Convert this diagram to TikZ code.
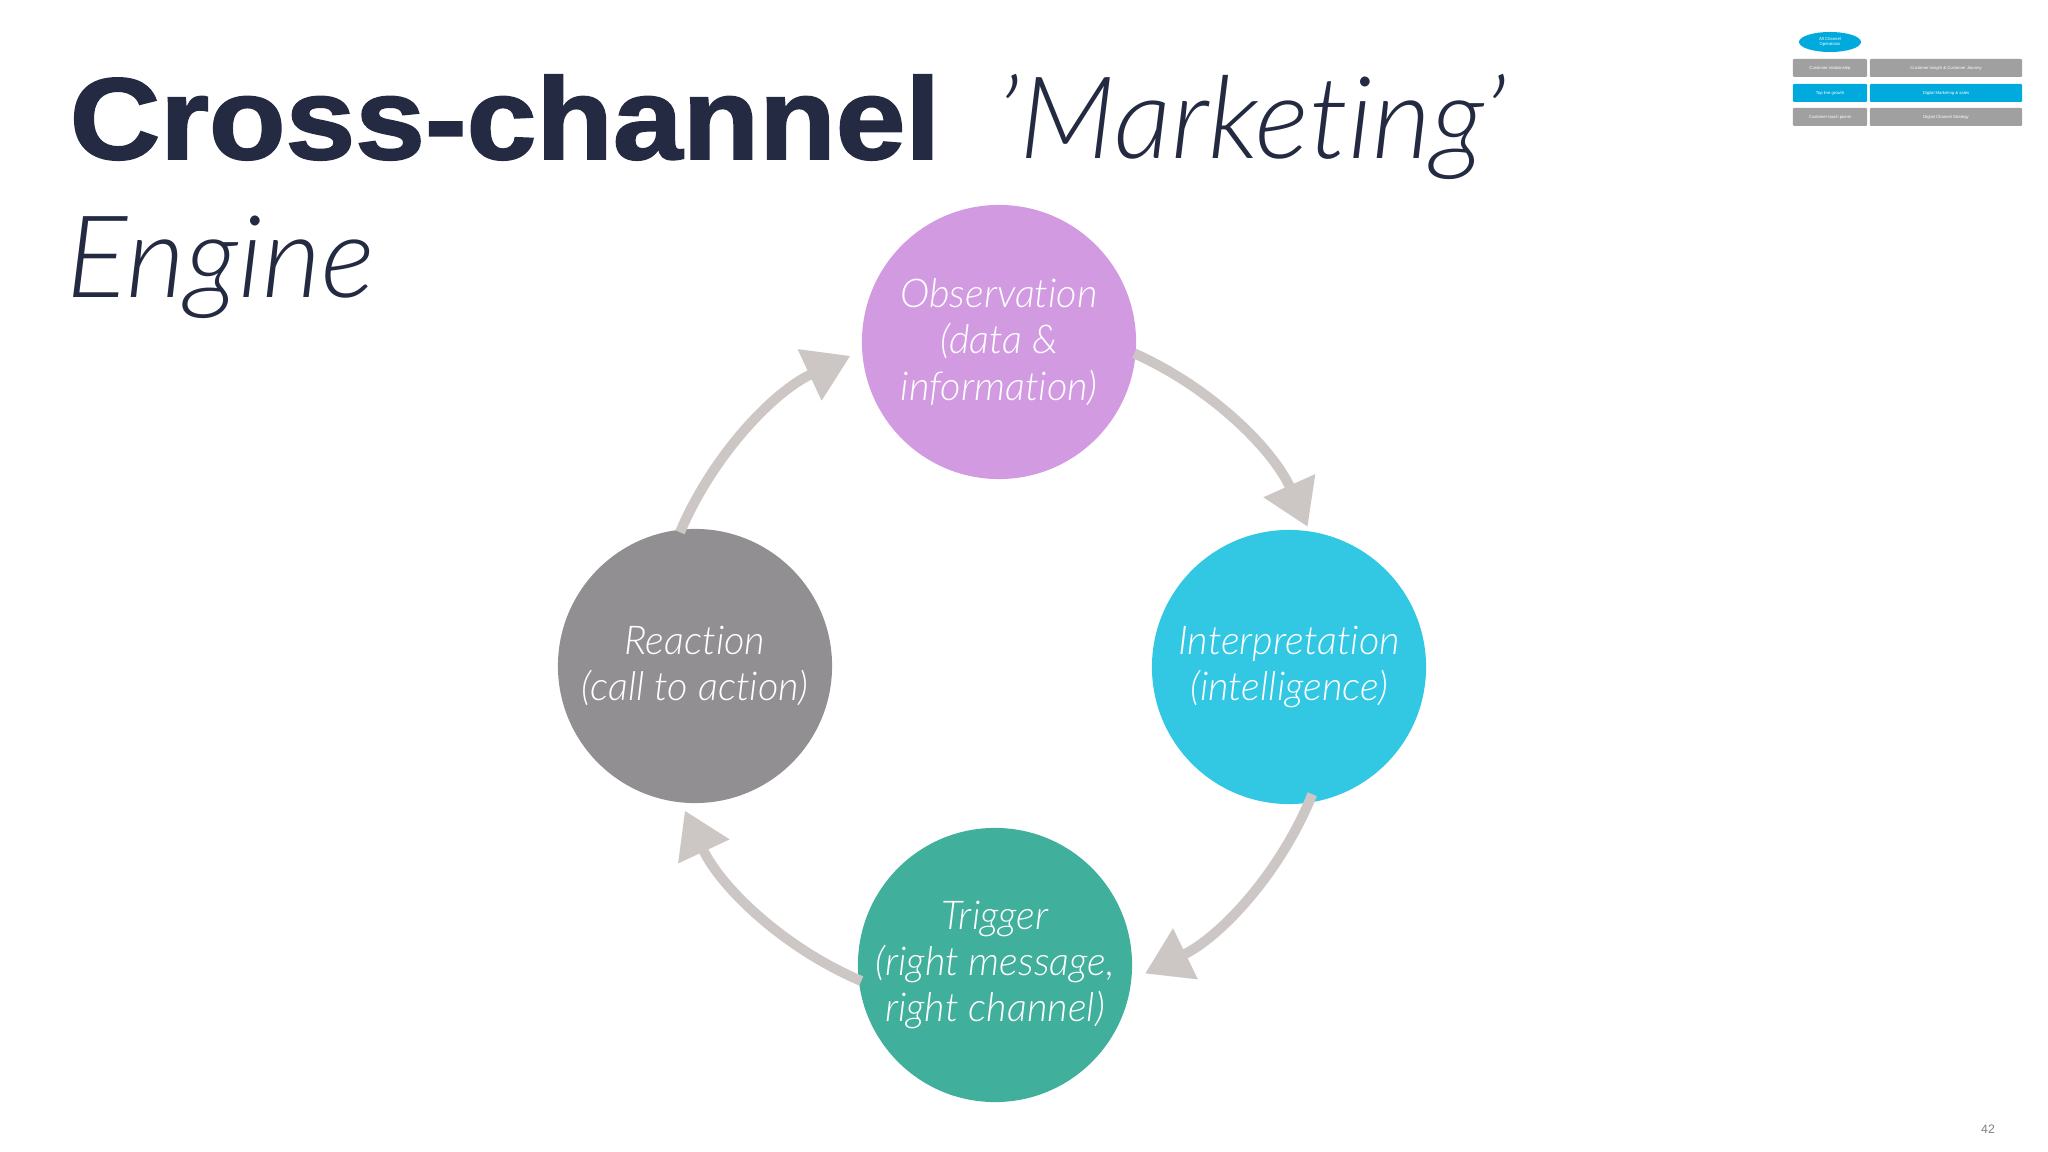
\documentclass[tikz,border=0pt]{standalone}
\usepackage{fontspec}
\setmainfont{Liberation Sans}
\newfontfamily\heavy{Liberation Sans}[BoldFont=Liberation Sans Bold,BoldFeatures={FakeBold=1.6}]
\newfontfamily\lightit{Lato}[UprightFont=* Light Italic,Ligatures=NoCommon]
\usetikzlibrary{arrows.meta,shapes.geometric}
\definecolor{navy}{RGB}{35,42,66}
\definecolor{obs}{RGB}{210,155,225}
\definecolor{intc}{RGB}{50,200,228}
\definecolor{trig}{RGB}{64,175,155}
\definecolor{reac}{RGB}{145,143,146}
\definecolor{arr}{RGB}{204,199,196}
\definecolor{thb}{RGB}{0,170,220}
\definecolor{thg}{RGB}{160,160,160}
\begin{document}
\begin{tikzpicture}[x=0.01cm,y=-0.01cm,
 bub/.style={circle,minimum size=2.74cm,inner sep=0,text=white,align=center,font=\lightit\fontsize{11.3}{13.2}\selectfont},
 cyc/.style={arr,line width=1mm,-{Triangle[length=4.5mm,width=5.4mm]}},
 tb/.style={rounded corners=0.1mm,minimum height=1.8mm,inner sep=0,text=white,font=\fontsize{1.2}{1.4}\selectfont}]
\useasboundingbox (0,0) rectangle (2048,1152);
\node[anchor=base west,text=navy,inner sep=0,xscale=1.08,font=\heavy\bfseries\fontsize{33}{36}\selectfont] (t1) at (69,159) {Cross-channel};
\node[anchor=base west,text=navy,inner sep=0,font=\lightit\fontsize{32.5}{36}\selectfont] (t2) at (996,159) {’Marketing’};
\node[anchor=base west,text=navy,inner sep=0,font=\lightit\fontsize{32.5}{36}\selectfont] (t3) at (66,298) {Engine};
\node[bub,fill=obs] (o) at (999,342) {Observation\\(data \&\\information)};
\node[bub,fill=intc] (i) at (1289,667) {Interpretation\\(intelligence)};
\node[bub,fill=trig] (tr) at (995,965) {Trigger\\(right message,\\right channel)};
\node[bub,fill=reac] (r) at (695,666) {Reaction\\(call to action)};
\coordinate (c) at (995,666);
\draw[cyc] ([shift={(66:3.42cm)}]c) arc[start angle=66,end angle=24,radius=3.42cm];
\draw[cyc] ([shift={(-22:3.42cm)}]c) arc[start angle=-22,end angle=-64,radius=3.42cm];
\draw[cyc] ([shift={(-113:3.42cm)}]c) arc[start angle=-113,end angle=-155,radius=3.42cm];
\draw[cyc] ([shift={(157:3.42cm)}]c) arc[start angle=157,end angle=115,radius=3.42cm];
% thumbnail
\node[ellipse,fill=thb,minimum width=6.2mm,minimum height=2mm,inner sep=0,text=white,font=\fontsize{1.2}{1.4}\selectfont,align=center] (th0) at (1830,42) {All Channel\\Operations};
\node[tb,fill=thg,minimum width=7.4mm] (a1) at (1830,68) {Customer relationship};
\node[tb,fill=thg,minimum width=15.2mm] (b1) at (1946,68) {Customer Insight \& Customer Journey};
\node[tb,fill=thb,minimum width=7.4mm] (a2) at (1830,93) {Top line growth};
\node[tb,fill=thb,minimum width=15.2mm] (b2) at (1946,93) {Digital Marketing \& sales};
\node[tb,fill=thg,minimum width=7.4mm] (a3) at (1830,117) {Customer touch points};
\node[tb,fill=thg,minimum width=15.2mm] (b3) at (1946,117) {Digital Channel Strategy};
\node[text=gray,font=\fontsize{3.5}{4}\selectfont] (pg) at (1988,1129) {42};
\end{tikzpicture}
\end{document}
